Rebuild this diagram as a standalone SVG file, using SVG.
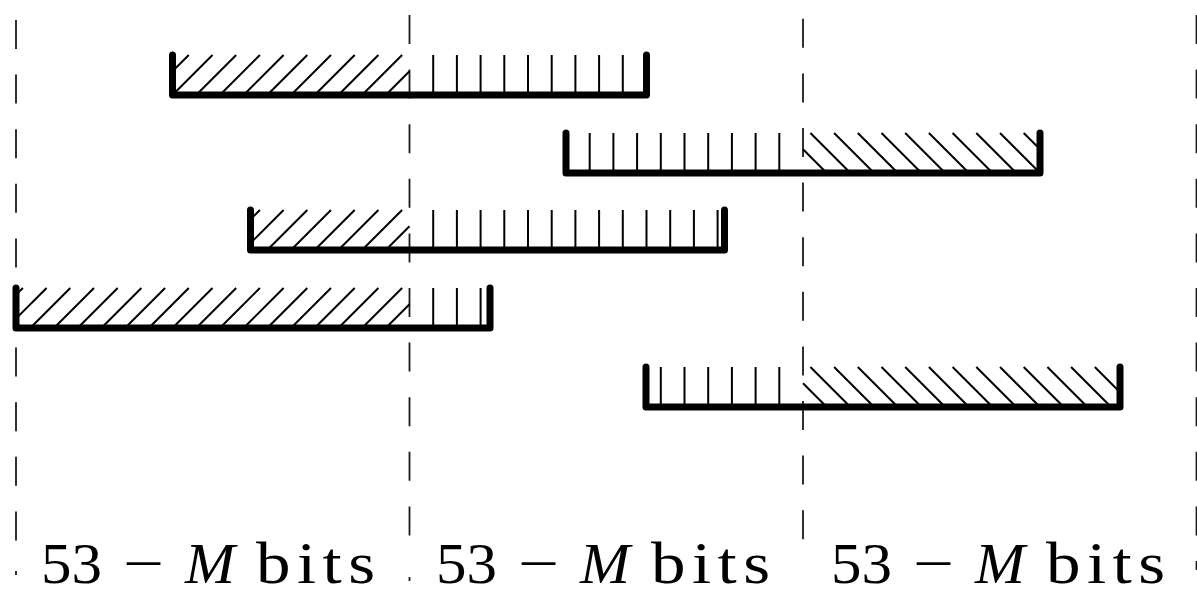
<svg xmlns="http://www.w3.org/2000/svg" width="1197" height="594" viewBox="0 0 1197 594">
  <style>
    .guide { stroke: #1a1a1a; stroke-width: 1.8; stroke-dasharray: 29 25.6; fill: none; }
    .tail { stroke: #1a1a1a; stroke-width: 1.8; fill: none; }
    .frame { stroke: #000; stroke-width: 7; fill: none; stroke-linecap: round; stroke-linejoin: round; }
    .hatch { stroke: #000; stroke-width: 2; fill: none; }
    .lbl text { font-family: "Liberation Serif", "Times New Roman", serif; font-size: 58px; fill: #000; }
    .lbl .it { font-style: italic; }
    .lbl .word { font-size: 60px; }
  </style>
  <rect width="1197" height="594" fill="#fff"/>

  <!-- chunk boundaries -->
  <g id="guides">
    <line class="guide" x1="16" y1="20" x2="16" y2="541"/>
    <path class="tail" d="M16,571V575"/>
    <line class="guide" x1="409.5" y1="15" x2="409.5" y2="541"/>
    <path class="tail" d="M409.5,577V581"/>
    <line class="guide" x1="803" y1="18.8" x2="803" y2="552"/>
    <line class="guide" x1="1196.5" y1="15" x2="1196.5" y2="570"/>
  </g>

  <!-- word 1: hatching anchored on boundary x=409.5 -->
  <g id="bar-1" transform="translate(409.5,95)">
    <path class="hatch" d="M-23.7,0L0,-23.7M-47.4,0l40,-40M-71.1,0l40,-40M-94.8,0l40,-40M-118.5,0l40,-40M-142.2,0l40,-40M-165.9,0l40,-40M-189.6,0l40,-40M-213.3,0l40,-40M-237,0l40,-40M-237,-23.7L-220.7,-40"/>
    <path class="hatch" d="M23.7,0v-40M47.4,0v-40M71.1,0v-40M94.8,0v-40M118.5,0v-40M142.2,0v-40M165.9,0v-40M189.6,0v-40M213.3,0v-40"/>
    <path class="frame" d="M-237,-40V0H237V-40"/>
  </g>

  <!-- word 2: hatching anchored on boundary x=803 -->
  <g id="bar-2" transform="translate(803,173)">
    <path class="hatch" d="M-23.7,0v-40M-47.4,0v-40M-71.1,0v-40M-94.8,0v-40M-118.5,0v-40M-142.2,0v-40M-165.9,0v-40M-189.6,0v-40M-213.3,0v-40"/>
    <path class="hatch" d="M23.7,0L0,-23.7M47.4,0l-40,-40M71.1,0l-40,-40M94.8,0l-40,-40M118.5,0l-40,-40M142.2,0l-40,-40M165.9,0l-40,-40M189.6,0l-40,-40M213.3,0l-40,-40M237,0l-40,-40M237,-23.7L220.7,-40"/>
    <path class="frame" d="M-237,-40V0H237V-40"/>
  </g>

  <!-- word 3 -->
  <g id="bar-3" transform="translate(409.5,250)">
    <path class="hatch" d="M-23.7,0L0,-23.7M-47.4,0l40,-40M-71.1,0l40,-40M-94.8,0l40,-40M-118.5,0l40,-40M-142.2,0l40,-40M-159,-6.9L-125.9,-40M-159,-30.6L-149.6,-40"/>
    <path class="hatch" d="M23.7,0v-40M47.4,0v-40M71.1,0v-40M94.8,0v-40M118.5,0v-40M142.2,0v-40M165.9,0v-40M189.6,0v-40M213.3,0v-40M237,0v-40M260.7,0v-40M284.4,0v-40M308.1,0v-40"/>
    <path class="frame" d="M-159,-40V0H315V-40"/>
  </g>

  <!-- word 4 -->
  <g id="bar-4" transform="translate(409.5,328)">
    <path class="hatch" d="M-23.7,0L0,-23.7M-47.4,0l40,-40M-71.1,0l40,-40M-94.8,0l40,-40M-118.5,0l40,-40M-142.2,0l40,-40M-165.9,0l40,-40M-189.6,0l40,-40M-213.3,0l40,-40M-237,0l40,-40M-260.7,0l40,-40M-284.4,0l40,-40M-308.1,0l40,-40M-331.8,0l40,-40M-355.5,0l40,-40M-379.2,0l40,-40M-393.5,-9.4L-362.9,-40M-393.5,-33.1L-386.6,-40"/>
    <path class="hatch" d="M23.7,0v-40M47.4,0v-40M71.1,0v-40"/>
    <path class="frame" d="M-393.5,-40V0H80.5V-40"/>
  </g>

  <!-- word 5 -->
  <g id="bar-5" transform="translate(803,407)">
    <path class="hatch" d="M-23.7,0v-40M-47.4,0v-40M-71.1,0v-40M-94.8,0v-40M-118.5,0v-40M-142.2,0v-40"/>
    <path class="hatch" d="M23.7,0L0,-23.7M47.4,0l-40,-40M71.1,0l-40,-40M94.8,0l-40,-40M118.5,0l-40,-40M142.2,0l-40,-40M165.9,0l-40,-40M189.6,0l-40,-40M213.3,0l-40,-40M237,0l-40,-40M260.7,0l-40,-40M284.4,0l-40,-40M308.1,0l-40,-40M317,-14.8L291.8,-40M317,-38.5L315.5,-40"/>
    <path class="frame" d="M-157,-40V0H317V-40"/>
  </g>

  <!-- chunk widths -->
  <g id="label-1" class="lbl" transform="translate(210,583)">
    <text x="-169" textLength="61" lengthAdjust="spacingAndGlyphs">53</text>
    <text x="-87" textLength="41" lengthAdjust="spacingAndGlyphs">−</text>
    <text class="it" x="-25" textLength="50" lengthAdjust="spacingAndGlyphs">M</text>
    <text class="word" x="40" textLength="103.5" lengthAdjust="spacing" transform="scale(1.15,1)">bits</text>
  </g>
  <g id="label-2" class="lbl" transform="translate(605,583)">
    <text x="-169" textLength="61" lengthAdjust="spacingAndGlyphs">53</text>
    <text x="-87" textLength="41" lengthAdjust="spacingAndGlyphs">−</text>
    <text class="it" x="-25" textLength="50" lengthAdjust="spacingAndGlyphs">M</text>
    <text class="word" x="40" textLength="103.5" lengthAdjust="spacing" transform="scale(1.15,1)">bits</text>
  </g>
  <g id="label-3" class="lbl" transform="translate(1000,583)">
    <text x="-169" textLength="61" lengthAdjust="spacingAndGlyphs">53</text>
    <text x="-87" textLength="41" lengthAdjust="spacingAndGlyphs">−</text>
    <text class="it" x="-25" textLength="50" lengthAdjust="spacingAndGlyphs">M</text>
    <text class="word" x="40" textLength="103.5" lengthAdjust="spacing" transform="scale(1.15,1)">bits</text>
  </g>
</svg>
